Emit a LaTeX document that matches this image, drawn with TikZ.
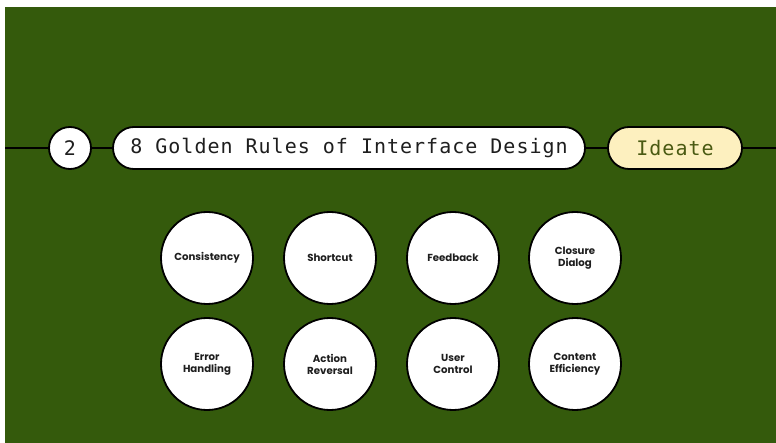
\documentclass[tikz,border=0pt]{standalone}
\usepackage{fontspec}
\newfontfamily\monofont{DejaVu Sans Mono}[LetterSpace=5.0]
\newfontfamily\labelfont{Poppins}
\definecolor{boardgreen}{HTML}{345A0C}
\definecolor{ideatefill}{HTML}{FDF0BF}
\definecolor{ideatetext}{HTML}{4A5A12}
\definecolor{inkdark}{HTML}{1E1E1E}
\tikzset{
  track/.style={line width=2.8pt, draw=black},
  badge/.style={circle, draw=black, line width=1.8pt, fill=white, minimum size=42pt, inner sep=0pt,
    font=\monofont\fontsize{20}{20}\selectfont, text=inkdark},
  pill/.style={rectangle, rounded corners=21pt, draw=black, line width=1.8pt, minimum height=42pt, inner sep=0pt,
    font=\monofont\fontsize{20}{20}\selectfont},
  rule/.style={circle, draw=black, line width=1.8pt, fill=white, minimum size=92pt, inner sep=0pt,
    align=center, text=inkdark, font=\labelfont\bfseries\fontsize{10.2}{12}\selectfont}
}
\begin{document}
\begin{tikzpicture}[x=1pt, y=-1pt]
  % page and board
  \fill[white] (0,0) rectangle (776,443);
  \fill[boardgreen] (5,7) rectangle (776,443);
  \useasboundingbox (0,0) rectangle (776,443);

  % header strip
  \coordinate (lend) at (5,148);
  \coordinate (rend) at (776,148);
  \node[badge] (step2) at (70,148) {2};
  \node[pill, fill=white, minimum width=472pt, text=inkdark] (title) at (349,148) {8 Golden Rules of Interface Design};
  \node[pill, fill=ideatefill, minimum width=134pt, text=ideatetext] (ideate) at (675,148) {Ideate};
  \draw[track] (lend) -- (step2);
  \draw[track] (step2) -- (title);
  \draw[track] (title) -- (ideate);
  \draw[track] (ideate) -- (rend);

  % the eight rules
  \node[rule] (consistency) at (207,258) {Consistency};
  \node[rule] (shortcut) at (330,258) {Shortcut};
  \node[rule] (feedback) at (453,258) {Feedback};
  \node[rule] (closure) at (575,258) {Closure\\Dialog};
  \node[rule] (error) at (207,364) {Error\\Handling};
  \node[rule] (reversal) at (330,364) {Action\\Reversal};
  \node[rule] (control) at (453,364) {User\\Control};
  \node[rule] (efficiency) at (575,364) {Content\\Efficiency};
\end{tikzpicture}
\end{document}
